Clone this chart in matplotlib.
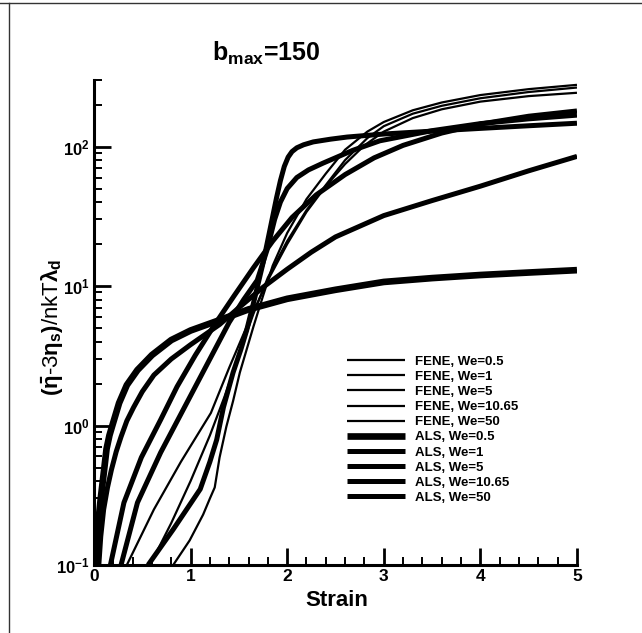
import matplotlib
matplotlib.use('Agg')
import matplotlib.pyplot as plt
from matplotlib.lines import Line2D
from matplotlib.ticker import LogLocator, MultipleLocator, NullFormatter

# Helvetica-like bold text everywhere, including the math parts
plt.rcParams['font.family'] = ['Liberation Sans', 'DejaVu Sans']
plt.rcParams['font.weight'] = 'bold'
plt.rcParams['mathtext.fontset'] = 'custom'
plt.rcParams['mathtext.rm'] = 'Liberation Sans:bold'
plt.rcParams['mathtext.it'] = 'Liberation Sans:bold'
plt.rcParams['mathtext.bf'] = 'Liberation Sans:bold'

# Extensional viscosity vs strain, b_max = 150
# We = 0.5 (FENE and ALS nearly on top of each other)
we05_strain = [0.015, 0.03, 0.05, 0.07, 0.10, 0.13, 0.16, 0.19, 0.26, 0.34, 0.45,
               0.6, 0.8, 1.0, 1.3, 1.6, 2.0, 2.5, 3.0, 3.5, 4.0, 4.5, 5.0]
fene_05 = [0.1, 0.15, 0.22, 0.3, 0.45, 0.68, 0.85, 1.0, 1.45, 1.95, 2.5,
           3.2, 4.1, 4.8, 5.7, 6.8, 8.1, 9.4, 10.7, 11.4, 12.0, 12.5, 13.0]
als_05 = [0.1, 0.15, 0.22, 0.3, 0.45, 0.68, 0.85, 1.0, 1.45, 1.95, 2.5,
          3.2, 4.1, 4.8, 5.7, 6.8, 8.1, 9.4, 10.7, 11.4, 12.0, 12.5, 13.0]

# We = 1 (again both models overlap)
we1_strain = [0.05, 0.07, 0.10, 0.14, 0.18, 0.23, 0.28, 0.34, 0.41, 0.5, 0.62, 0.8,
              1.0, 1.3, 1.5, 1.75, 2.0, 2.25, 2.5, 3.0, 3.5, 4.0, 4.5, 5.0]
fene_1 = [0.1, 0.16, 0.25, 0.36, 0.48, 0.65, 0.83, 1.08, 1.35, 1.75, 2.3, 3.0,
          3.8, 5.3, 7.0, 9.8, 13.2, 17.5, 22.5, 32, 41, 52, 67, 85]
als_1 = [0.1, 0.16, 0.25, 0.36, 0.48, 0.65, 0.83, 1.08, 1.35, 1.75, 2.3, 3.0,
         3.8, 5.3, 7.0, 9.8, 13.2, 17.5, 22.5, 32, 41, 52, 67, 85]

# We = 5
fene_5_strain = [0.34, 0.62, 0.9, 1.21, 1.4, 1.6, 1.8, 2.0, 2.2, 2.4, 2.6, 2.8,
                 3.0, 3.3, 3.6, 4.0, 4.5, 5.0]
fene_5 = [0.1, 0.25, 0.55, 1.23, 2.6, 5.5, 11, 20, 34, 52, 75, 102,
          128, 160, 185, 210, 230, 243]
als_5_strain = [0.17, 0.31, 0.49, 0.69, 0.86, 1.05, 1.25, 1.45, 1.65, 1.85, 2.05,
                2.3, 2.6, 2.9, 3.2, 3.6, 4.0, 4.5, 5.0]
als_5 = [0.1, 0.28, 0.59, 1.1, 1.9, 3.2, 5.3, 8.5, 13.5, 21, 31,
         45, 63, 83, 102, 125, 145, 165, 180]

# We = 10.65
fene_1065_strain = [0.58, 0.8, 1.0, 1.2, 1.35, 1.5, 1.65, 1.8, 2.0, 2.2, 2.4, 2.6,
                    2.83, 3.0, 3.3, 3.6, 4.0, 4.5, 5.0]
fene_1065 = [0.1, 0.2, 0.4, 0.85, 1.6, 3.2, 6.3, 11.5, 21, 35, 53, 80,
             115, 140, 172, 196, 222, 246, 265]
als_1065_strain = [0.28, 0.45, 0.69, 0.96, 1.2, 1.4, 1.55, 1.69, 1.79, 1.87, 1.93,
                   2.0, 2.1, 2.22, 2.37, 2.68, 2.96, 3.5, 4.0, 4.5, 5.0]
als_1065 = [0.1, 0.28, 0.64, 1.45, 3.0, 5.5, 8.0, 11, 18, 30, 40,
            50, 60, 68, 76, 94, 110, 130, 146, 158, 168]

# We = 50
fene_50_strain = [0.82, 0.99, 1.13, 1.2, 1.25, 1.30, 1.37, 1.44, 1.51, 1.58, 1.65,
                  1.75, 1.85, 2.0, 2.2, 2.4, 2.6, 2.83, 3.0, 3.3, 3.6, 4.0, 4.5, 5.0]
fene_50 = [0.1, 0.15, 0.23, 0.3, 0.36, 0.59, 0.98, 1.5, 2.4, 3.5, 5.1,
           8.5, 14, 24, 42, 64, 95, 128, 150, 182, 207, 234, 258, 277]
als_50_strain = [0.56, 0.82, 1.1, 1.2, 1.27, 1.34, 1.44, 1.52, 1.58, 1.66, 1.75,
                 1.82, 1.89, 1.93, 1.97, 2.01, 2.05, 2.1, 2.17, 2.27, 2.45, 2.62,
                 3.0, 3.5, 4.0, 4.5, 5.0]
als_50 = [0.1, 0.18, 0.35, 0.55, 0.79, 1.35, 2.4, 3.5, 4.8, 8, 14.6,
          25, 43, 57, 72, 84, 92, 98, 103, 108, 113, 117,
          123, 129, 135, 141, 147]

fene_curves = [(we05_strain, fene_05, 'FENE, We=0.5'),
               (we1_strain, fene_1, 'FENE, We=1'),
               (fene_5_strain, fene_5, 'FENE, We=5'),
               (fene_1065_strain, fene_1065, 'FENE, We=10.65'),
               (fene_50_strain, fene_50, 'FENE, We=50')]
als_curves = [(we05_strain, als_05, 'ALS, We=0.5'),
              (we1_strain, als_1, 'ALS, We=1'),
              (als_5_strain, als_5, 'ALS, We=5'),
              (als_1065_strain, als_1065, 'ALS, We=10.65'),
              (als_50_strain, als_50, 'ALS, We=50')]

fig = plt.figure(figsize=(6.42, 6.33), dpi=100)
ax = fig.add_axes([0.1464, 0.1074, 0.7523, 0.7662])

# thin lines for FENE, heavy lines for ALS
for s, v, lab in fene_curves:
    ax.plot(s, v, color='black', lw=1.6, label=lab, solid_capstyle='butt',
            solid_joinstyle='round')
for i, (s, v, lab) in enumerate(als_curves):
    ax.plot(s, v, color='black', lw=4.8 if i == 0 else 3.6, label=lab,
            solid_capstyle='butt', solid_joinstyle='round')

ax.set_yscale('log')
ax.set_xlim(0, 5)
ax.set_ylim(0.1, 300)

ax.spines['top'].set_visible(False)
ax.spines['right'].set_visible(False)
ax.spines['left'].set_linewidth(2.2)
ax.spines['bottom'].set_linewidth(2.2)

ax.xaxis.set_major_locator(MultipleLocator(1))
ax.xaxis.set_minor_locator(MultipleLocator(0.2))
ax.yaxis.set_major_locator(LogLocator(base=10))
ax.yaxis.set_minor_locator(LogLocator(base=10, subs=range(2, 10)))
ax.yaxis.set_minor_formatter(NullFormatter())
ax.tick_params(which='major', direction='in', length=12, width=2, labelsize=12.5, pad=3)
ax.tick_params(which='minor', direction='in', length=6, width=1.4)
ax.tick_params(axis='y', labelsize=12, pad=3)

ax.set_xlabel('Strain', fontsize=16, fontweight='bold')
ax.xaxis.set_label_coords(0.503, -0.052)
ax.set_ylabel(r'$(\bar{\eta}$-3$\eta_s)$/nkT$\lambda_d$', fontsize=16)
ax.yaxis.set_label_coords(-0.06, 0.49)

fig.text(266 / 642, 1 - 53 / 633, r'b$_{max}$=150', ha='center', va='center',
         fontsize=18, fontweight='bold')

leg = ax.legend(loc='upper left', bbox_to_anchor=(0.524, 0.432), frameon=False,
                fontsize=9.5, handlelength=4.4, handletextpad=0.75,
                labelspacing=0.22, borderpad=0, borderaxespad=0)
for t in leg.get_texts():
    t.set_fontweight('bold')

# scanned page border on the left and top
fig.add_artist(Line2D([9 / 642, 9 / 642], [0, 1 - 3 / 633], transform=fig.transFigure,
                      color='0.2', lw=1))
fig.add_artist(Line2D([0, 1], [1 - 3 / 633, 1 - 3 / 633], transform=fig.transFigure,
                      color='0.2', lw=1))

fig.savefig('out.png', dpi=100)
